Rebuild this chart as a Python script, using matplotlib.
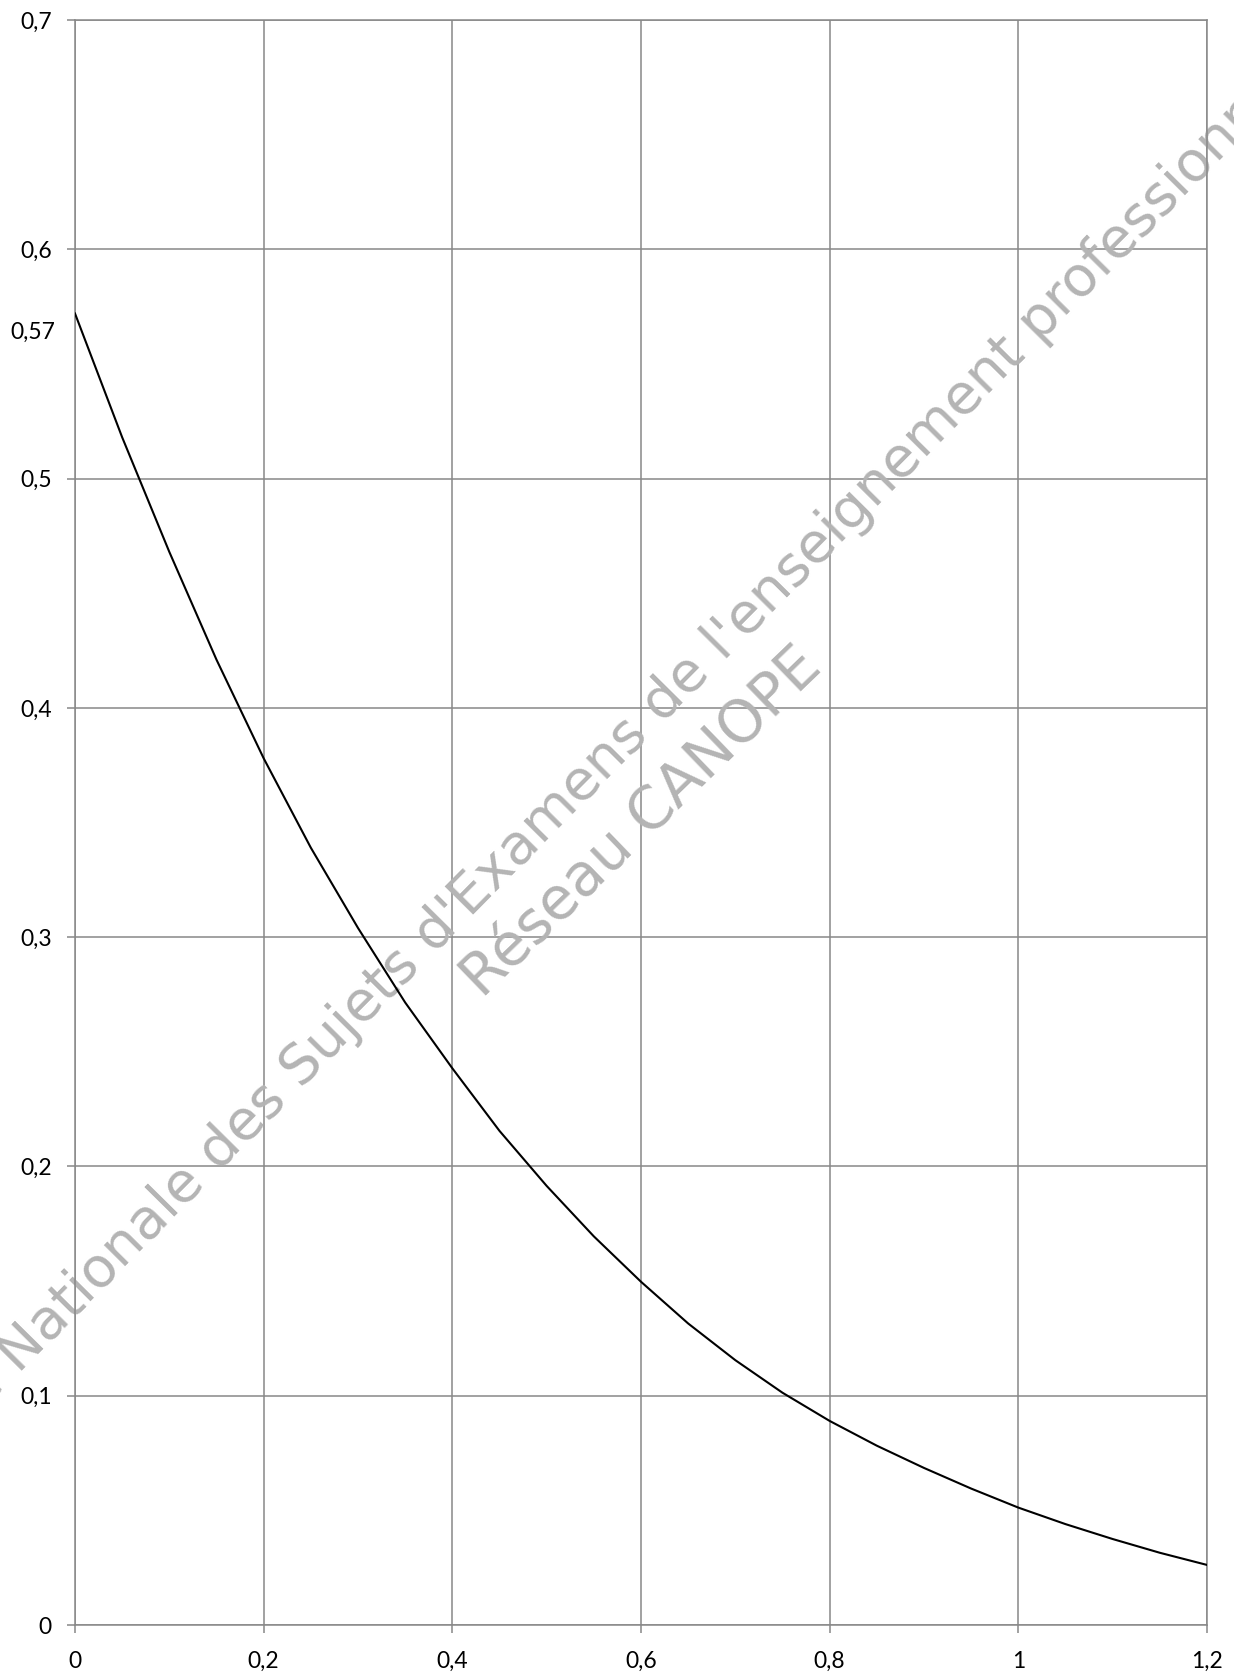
import numpy as np
import matplotlib
matplotlib.use("Agg")
import matplotlib.pyplot as plt
from matplotlib.ticker import FixedLocator, FixedFormatter
from matplotlib.textpath import TextPath
from matplotlib.font_manager import FontProperties

# ---- data ----
x_values = [0.00, 0.05, 0.10, 0.15, 0.20, 0.25, 0.30, 0.35, 0.40, 0.45, 0.50, 0.55,
            0.60, 0.65, 0.70, 0.75, 0.80, 0.85, 0.90, 0.95, 1.00, 1.05, 1.10, 1.15, 1.20]
y_values = [0.572, 0.518, 0.468, 0.421, 0.378, 0.339, 0.304, 0.2715, 0.2428, 0.2155,
            0.1915, 0.1695, 0.1497, 0.1315, 0.1155, 0.1013, 0.0890, 0.0782, 0.0685,
            0.0595, 0.0512, 0.0440, 0.0375, 0.0315, 0.0262]
x_ticks = [0, 0.2, 0.4, 0.6, 0.8, 1.0, 1.2]
x_tick_labels = ["0", "0,2", "0,4", "0,6", "0,8", "1", "1,2"]
y_ticks = [0, 0.1, 0.2, 0.3, 0.4, 0.5, 0.6, 0.7]
y_tick_labels = ["0", "0,1", "0,2", "0,3", "0,4", "0,5", "0,6", "0,7"]
marked_value = 0.57
marked_label = "0,57"
watermark_line1 = "Base Nationale des Sujets d'Examens de l'enseignement professionnel"
watermark_line2 = "Réseau CANOPE"

# ---- figure ----
W, H, DPI = 1234, 1675, 100
fig = plt.figure(figsize=(W / DPI, H / DPI), dpi=DPI)
ax = fig.add_axes([75 / W, 1 - 1625 / H, (1207 - 75) / W, (1625 - 20) / H])

grid_c = "#888888"
ax.plot(x_values, y_values, color="black", lw=1.5, zorder=3, solid_joinstyle="round")
ax.set_xlim(0, 1.2)
ax.set_ylim(0, 0.7)
ax.xaxis.set_major_locator(FixedLocator(x_ticks))
ax.xaxis.set_major_formatter(FixedFormatter(x_tick_labels))
ax.yaxis.set_major_locator(FixedLocator(y_ticks))
ax.yaxis.set_major_formatter(FixedFormatter(y_tick_labels))
ax.grid(True, color=grid_c, lw=1.1, zorder=1)
ax.set_axisbelow(True)
for s in ax.spines.values():
    s.set_color(grid_c)
    s.set_linewidth(1.1)
ax.tick_params(axis="both", direction="out", length=5.8, width=1.1, color=grid_c,
               labelcolor="black")
ax.tick_params(axis="y", pad=11)
ax.tick_params(axis="x", pad=13)
for lab in ax.get_xticklabels() + ax.get_yticklabels():
    lab.set_fontfamily("Lato")
    lab.set_fontsize(16.5)

ax.annotate(marked_label, xy=(0, marked_value), xycoords="data",
            xytext=(-14.4, -10), textcoords="offset points",
            ha="right", va="center", fontfamily="Lato", fontsize=16.5,
            color="black", annotation_clip=False)

# ---- watermark ----
fp = FontProperties(family="DejaVu Sans", weight="normal")
wm_color = "#b4b4b4"


def char_center(s, i):
    p = TextPath((0, 0), s[: i + 1], size=100, prop=fp).get_extents()
    g = TextPath((0, 0), s[i], size=100, prop=fp).get_extents()
    return p.x1 - (g.x1 - g.x0) / 2.0, (g.y0 + g.y1) / 2.0


def place(s, i_a, i_b, pa, pb, angle, size=None):
    ca, ha_ = char_center(s, i_a)
    cb, hb_ = char_center(s, i_b)
    th = np.deg2rad(angle)
    u = np.array([np.cos(th), np.sin(th)])
    n = np.array([-np.sin(th), np.cos(th)])
    pa = np.array([pa[0], H - pa[1]], float)
    pb = np.array([pb[0], H - pb[1]], float)
    if size is None:
        dist = np.hypot(*(pb - pa))
        size = dist / ((cb - ca) / 100.0 * DPI / 72.0)
    k = size / 100.0 * DPI / 72.0
    mid = (pa + pb) / 2.0
    cm = (ca + cb) / 2.0 * k
    hm = (ha_ + hb_) / 2.0 * k
    origin = mid - cm * u - hm * n
    ax.text(origin[0] / W, origin[1] / H, s, transform=fig.transFigure,
            rotation=angle, rotation_mode="anchor", ha="left", va="baseline",
            fontproperties=fp, fontsize=size, color=wm_color, clip_on=False,
            zorder=2)
    return size


i_N = watermark_line1.index("N")
i_n = watermark_line1.index("professionnel") + len("professio")
size1 = place(watermark_line1, i_N, i_n, (23, 1350), (1212, 137), 45.3)
place(watermark_line2, 0, len(watermark_line2) - 1, (483, 965), (797, 670), 44.0,
      size=size1 * 1.05)

fig.savefig("out.png", dpi=DPI)
